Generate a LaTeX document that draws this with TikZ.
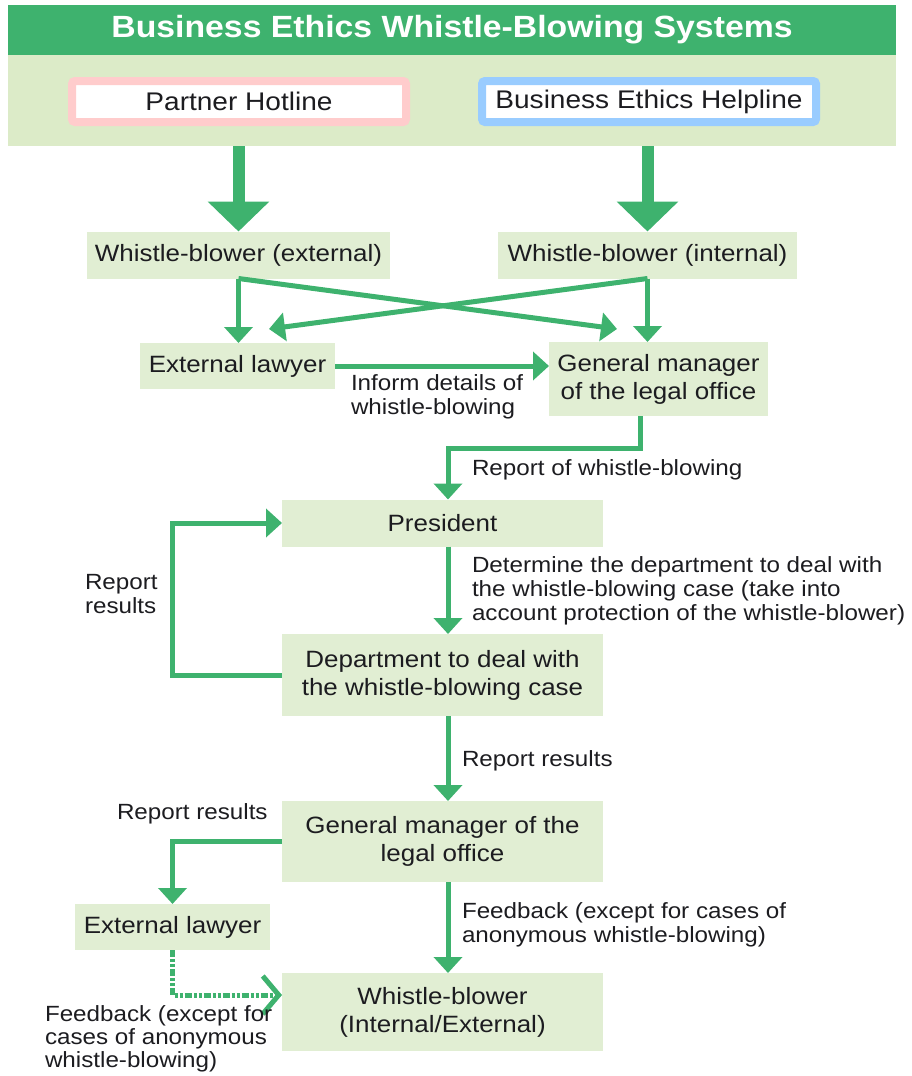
\documentclass[tikz,border=0pt]{standalone}
\usepackage{fontspec}
\setmainfont[FakeStretch=1.1]{Liberation Sans}
\usetikzlibrary{arrows.meta,calc}
\definecolor{hdrgreen}{RGB}{62,178,110}
\definecolor{bandgreen}{RGB}{220,235,200}
\definecolor{boxgreen}{RGB}{225,238,211}
\definecolor{linegreen}{RGB}{62,178,110}
\definecolor{pinkedge}{RGB}{255,204,204}
\definecolor{blueedge}{RGB}{153,204,255}
\definecolor{ink}{RGB}{28,28,32}

\begin{document}
\begin{tikzpicture}[x=1pt,y=-1pt,
  every node/.style={inner sep=0pt, outer sep=0pt, text=ink},
  box/.style n args={2}{fill=boxgreen, minimum width=#1, minimum height=#2,
    align=center, font=\fontsize{23.6}{28}\selectfont},
  hotline/.style={fill=white, draw=#1, line width=8pt, rounded corners=3pt,
    minimum width=334pt, minimum height=41pt, font=\fontsize{25.5}{28}\selectfont},
  lab/.style={anchor=west, align=left, font=\fontsize{22}{24}\selectfont},
  flow/.style={draw=linegreen, line width=5pt, -{Triangle[length=16pt,width=28pt]}},
  bigflow/.style={draw=linegreen, line width=12pt, -{Triangle[length=30pt,width=60pt]}},
  feedback/.style={draw=linegreen, line width=5pt,
    dash pattern=on 7pt off 2pt on 3pt off 2pt on 3pt off 2pt,
    -{Straight Barb[length=16pt,width=38pt,line width=5pt]}}]

\useasboundingbox (0,0) rectangle (912,1076);

% header and the two entry channels
\node[fill=hdrgreen, minimum width=888pt, minimum height=50pt,
      text=white, font=\fontsize{30.7}{34}\selectfont\bfseries] (hdr) at (452,30)
      {Business Ethics Whistle-Blowing Systems};
\node[fill=bandgreen, minimum width=888pt, minimum height=91pt] (band) at (452,100.5) {};
\node[hotline=pinkedge] (ph) at (239,101.5) {Partner Hotline};
\node[hotline=blueedge] (bh) at (649,101.5) {Business Ethics Helpline};

% boxes of the flow
\coordinate (col) at (448,0);
\node[box={303pt}{47pt}] (wbe) at (238.5,255) {Whistle-blower (external)};
\node[box={299pt}{47pt}] (wbi) at (647.5,255) {Whistle-blower (internal)};
\node[box={195pt}{46pt}] (el) at (237.5,366) {External lawyer};
\node[box={219pt}{74pt}] (gm) at (658.5,379) {General manager\\of the legal office};
\node[box={321pt}{47pt}] (pres) at (442.5,523) {President};
\node[box={321pt}{82pt}] (dept) at (442.5,675) {Department to deal with\\the whistle-blowing case};
\node[box={321pt}{81pt}] (gm2) at (442.5,841.5) {General manager of the\\legal office};
\node[box={195pt}{46pt}] (el2) at (172.5,927) {External lawyer};
\node[box={321pt}{78pt}] (wb) at (442.5,1012) {Whistle-blower\\(Internal/External)};

% channel arrows
\draw[bigflow] (band.south -| wbe) -- (wbe.north);
\draw[bigflow] (band.south -| wbi) -- (wbi.north);

% whistle-blowers to lawyer and legal office
\coordinate (tipgm) at (617,329);
\coordinate (tipel) at (269,329);
\draw[flow] (wbe.south) -- (wbe.south |- el.north);
\draw[flow] (wbe.south) -- (tipgm);
\draw[flow] (wbi.south) -- (tipel);
\draw[flow] (wbi.south) -- (wbi.south |- gm.north);
\draw[flow] (el.east) -- (el.east -| gm.west);

% investigation and reporting
\draw[flow] ($(gm.south)+(-18,0)$) -- ++(0,32) -| (pres.north -| col);
\draw[flow] (pres.south -| col) -- (dept.north -| col);
\draw[flow] (dept.west) -- ++(-110,0) |- (pres.west);
\draw[flow] (dept.south -| col) -- (gm2.north -| col);
\draw[flow] (gm2.west) -| (el2.north);
\draw[flow] (gm2.south -| col) -- (wb.north -| col);
\draw[feedback] (el2.south) |- ($(wb.west)+(0,-17)$);

% connector labels
\node[lab] (l1) at (351,397) {Inform details of\\whistle-blowing};
\node[lab] (l2) at (472,470) {Report of whistle-blowing};
\node[lab] (l3) at (472,591) {Determine the department to deal with\\the whistle-blowing case (take into\\account protection of the whistle-blower)};
\node[lab] (l4) at (85,594) {Report\\results};
\node[lab] (l5) at (462,761) {Report results};
\node[lab] (l6) at (117,814) {Report results};
\node[lab] (l7) at (462,925) {Feedback (except for cases of\\anonymous whistle-blowing)};
\node[lab, font=\fontsize{22}{23}\selectfont] (l8) at (45,1039) {Feedback (except for\\cases of anonymous\\whistle-blowing)};
\end{tikzpicture}
\end{document}
